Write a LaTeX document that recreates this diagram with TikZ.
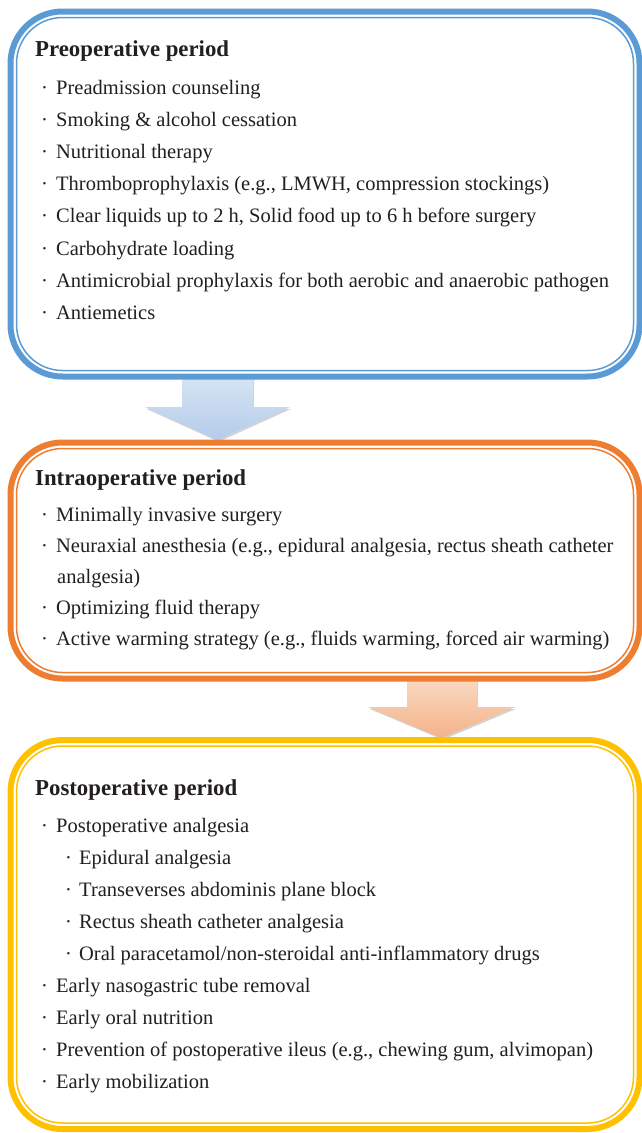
\documentclass[tikz,border=0pt]{standalone}
\usepackage{fontspec}
\setmainfont{Liberation Serif}
\usetikzlibrary{shadows}
\definecolor{bblue}{HTML}{5B9BD5}
\definecolor{borange}{HTML}{ED7D31}
\definecolor{bgold}{HTML}{FFC000}
\definecolor{txt}{HTML}{231F20}
\definecolor{abluetop}{HTML}{DAE6F5}
\definecolor{abluebot}{HTML}{B3CCEA}
\definecolor{aorgtop}{HTML}{FADDC9}
\definecolor{aorgbot}{HTML}{F3B287}
\tikzset{
  outerbox/.style={draw=#1, line width=6pt, rounded corners=52pt, fill=white, inner sep=0pt},
  innerbox/.style={draw=#1, line width=1.5pt, rounded corners=46pt, inner sep=0pt},
  ttl/.style={anchor=base west, inner sep=0pt, text=txt, font=\fontsize{22.8}{26}\selectfont\bfseries},
  itm/.style={anchor=base west, inner sep=0pt, text=txt, font=\fontsize{20.5}{24}\selectfont},
  arrowshape/.style={top color=#1top, bottom color=#1bot, draw=none,
    drop shadow={shadow xshift=1.2pt, shadow yshift=-1.8pt, opacity=0.35}}
}
\newcommand{\bulA}{\makebox[15pt][l]{·}}
\newcommand{\bulB}{\makebox[14pt][l]{·}}
\begin{document}
\begin{tikzpicture}[x=1pt,y=-1pt]
\useasboundingbox (0,0) rectangle (642,1133);
% arrows (behind boxes)
\path[arrowshape=ablue] (182,370) -- (253,370) -- (253,407) -- (290,407) -- (217.5,440) -- (145,407) -- (182,407) -- cycle;
\path[arrowshape=aorg] (407,672) -- (477,672) -- (477,707) -- (515,707) -- (441.5,738) -- (368,707) -- (407,707) -- cycle;
% box 1
\node[outerbox=bblue, minimum width=629pt, minimum height=365pt] (b1) at (325,194) {};
\node[innerbox=bblue, minimum width=617pt, minimum height=353pt] (b1i) at (325,194) {};
% box 2
\node[outerbox=borange, minimum width=629pt, minimum height=236pt] (b2) at (325,560.5) {};
\node[innerbox=borange, minimum width=617pt, minimum height=224pt] (b2i) at (325,560.5) {};
% box 3
\node[outerbox=bgold, minimum width=629pt, minimum height=389pt] (b3) at (325,934.5) {};
\node[innerbox=bgold, minimum width=617pt, minimum height=377pt] (b3i) at (325,934.5) {};
% box 1 text
\node[ttl] (t1) at (35,56.7) {Preoperative period};
\node[itm] (p1) at (41,94) {\bulA Preadmission counseling};
\node[itm] (p2) at (41,126.2) {\bulA Smoking \& alcohol cessation};
\node[itm] (p3) at (41,158.4) {\bulA Nutritional therapy};
\node[itm] (p4) at (41,190.6) {\bulA Thromboprophylaxis (e.g., LMWH, compression stockings)};
\node[itm] (p5) at (41,222.8) {\bulA Clear liquids up to 2 h, Solid food up to 6 h before surgery};
\node[itm] (p6) at (41,255) {\bulA Carbohydrate loading};
\node[itm] (p7) at (41,287.2) {\bulA Antimicrobial prophylaxis for both aerobic and anaerobic pathogen};
\node[itm] (p8) at (41,319.4) {\bulA Antiemetics};
% box 2 text
\node[ttl] (t2) at (35,485) {Intraoperative period};
\node[itm] (i1) at (41,521.7) {\bulA Minimally invasive surgery};
\node[itm] (i2) at (41,552.7) {\bulA Neuraxial anesthesia (e.g., epidural analgesia, rectus sheath catheter};
\node[itm] (i2b) at (57,583.7) {analgesia)};
\node[itm] (i3) at (41,614.7) {\bulA Optimizing fluid therapy};
\node[itm] (i4) at (41,645.7) {\bulA Active warming strategy (e.g., fluids warming, forced air warming)};
% box 3 text
\node[ttl] (t3) at (35,795) {Postoperative period};
\node[itm] (q1) at (41,832.7) {\bulA Postoperative analgesia};
\node[itm] (q1a) at (65,864.6) {\bulB Epidural analgesia};
\node[itm] (q1b) at (65,896.5) {\bulB Transeverses abdominis plane block};
\node[itm] (q1c) at (65,928.4) {\bulB Rectus sheath catheter analgesia};
\node[itm] (q1d) at (65,960.3) {\bulB Oral paracetamol/non-steroidal anti-inflammatory drugs};
\node[itm] (q2) at (41,992.2) {\bulA Early nasogastric tube removal};
\node[itm] (q3) at (41,1024.1) {\bulA Early oral nutrition};
\node[itm] (q4) at (41,1056) {\bulA Prevention of postoperative ileus (e.g., chewing gum, alvimopan)};
\node[itm] (q5) at (41,1088) {\bulA Early mobilization};
\end{tikzpicture}
\end{document}
